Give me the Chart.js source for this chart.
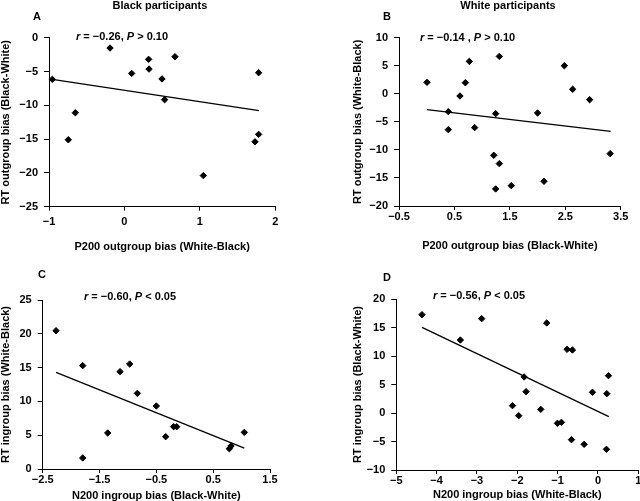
<!DOCTYPE html>
<html><head><meta charset="utf-8">
<script src="https://cdn.jsdelivr.net/npm/chart.js@4"></script>
<style>
html,body{margin:0;padding:0;background:#fff;width:640px;height:501px;overflow:hidden;position:relative;}
.cv{position:absolute;}
.t{position:absolute;font-family:"Liberation Sans",Arial,sans-serif;font-weight:bold;font-size:11px;line-height:11px;color:#000;white-space:nowrap;}
</style></head><body>
<div class="cv" style="left:0;top:0;width:320px;height:252px"><canvas id="cA"></canvas></div>
<div class="cv" style="left:320px;top:0;width:320px;height:251px"><canvas id="cB"></canvas></div>
<div class="cv" style="left:0;top:250px;width:320px;height:251px"><canvas id="cC"></canvas></div>
<div class="cv" style="left:320px;top:250px;width:330px;height:250px"><canvas id="cD"></canvas></div>

<div class="t" style="left:160px;top:-0.5px;transform:translateX(-50%)">Black participants</div>
<div class="t" style="left:508px;top:-0.5px;transform:translateX(-50%)">White participants</div>
<div class="t" style="left:33px;top:11px">A</div>
<div class="t" style="left:383px;top:10.5px">B</div>
<div class="t" style="left:38px;top:269px">C</div>
<div class="t" style="left:383px;top:271.5px">D</div>
<div class="t" style="left:76px;top:31px"><i>r</i> = −0.26, <i>P</i> &gt; 0.10</div>
<div class="t" style="left:420px;top:32px"><i>r</i> = −0.14 , <i>P</i> &gt; 0.10</div>
<div class="t" style="left:84px;top:291px"><i>r</i> = −0.60, <i>P</i> &lt; 0.05</div>
<div class="t" style="left:433px;top:290px"><i>r</i> = −0.56, <i>P</i> &lt; 0.05</div>

<script>
// Panel A: Black participants
const aX = [-0.956, -0.651, -0.744, -0.191, 0.096, 0.321, 0.326, 0.498, 0.533, 0.670, 1.779, 1.779, 1.731, 1.046];
const aY = [-6.16, -11.1, -15.1, -1.53, -5.28, -3.2, -4.64, -6.1, -9.17, -2.81, -5.18, -14.3, -15.4, -20.4];
const aFitX = [-0.956, 1.784];
const aFitY = [-6.16, -10.8];
const aXTicks = [-1, 0, 1, 2];
const aYTicks = [-25, -20, -15, -10, -5, 0];

// Panel B: White participants
const bX = [0.005, 0.39, 0.39, 0.60, 0.697, 0.769, 0.865, 1.31, 1.244, 1.21, 1.31, 1.244, 1.526, 2.0, 2.116, 2.483, 2.633, 2.94, 3.31];
const bY = [2.04, -3.18, -6.39, -0.39, 1.98, 5.78, -6.03, 6.67, -3.54, -10.96, -12.45, -16.96, -16.37, -3.42, -15.6, 5.0, 0.8, -1.05, -10.67];
const bFitX = [0.005, 3.318];
const bFitY = [-2.83, -6.69];
const bXTicks = [-0.5, 0.5, 1.5, 2.5, 3.5];
const bYTicks = [-20, -15, -10, -5, 0, 5, 10];

// Panel C
const cX = [-2.265, -1.796, -1.796, -1.356, -1.139, -0.969, -0.834, -0.5, -0.336, -0.195, -0.142, 0.784, 0.814, 1.048];
const cY = [20.46, 15.29, 1.63, 5.33, 14.4, 15.53, 11.19, 9.32, 4.78, 6.26, 6.26, 3.0, 3.4, 5.42];
const cFitX = [-2.265, 1.048];
const cFitY = [14.3, 3.1];
const cXTicks = [-2.5, -1.5, -0.5, 0.5, 1.5];
const cYTicks = [0, 5, 10, 15, 20, 25];

// Panel D
const dX = [-4.363, -3.412, -2.883, -1.27, -0.765, -0.633, -1.832, -1.783, -2.12, -1.965, -1.418, -1.005, -0.906, -0.657, -0.343, -0.137, 0.21, 0.219, 0.26];
const dY = [17.25, 12.8, 16.55, 15.79, 11.17, 11.05, 6.32, 3.74, 1.29, -0.47, 0.64, -1.81, -1.64, -4.68, -5.5, 3.63, -6.37, 3.39, 6.55];
const dFitX = [-4.363, 0.269];
const dFitY = [15.03, -0.64];
const dXTicks = [-5, -4, -3, -2, -1, 0, 1];
const dYTicks = [-10, -5, 0, 5, 10, 15, 20];

const FONT = '"Liberation Sans", Arial, sans-serif';
const fmt = v => (v < 0 ? '\u2212' : '') + String(Math.abs(v));
const pts = (xs, ys) => xs.map((x, i) => ({x: x, y: ys[i]}));

function makeChart(id, cfg) {
  const axis = (ticks, fixed, isX, title, pad, tickPad) => ({
    type: 'linear',
    min: ticks[0], max: ticks[ticks.length - 1],
    afterBuildTicks: s => { s.ticks = ticks.map(v => ({value: v})); },
    afterFit: s => { if (isX) s.height = fixed; else s.width = fixed; },
    grid: {drawOnChartArea: false, drawTicks: true, tickLength: isX ? 4 : 5, color: '#000', lineWidth: 1},
    border: {display: true, color: '#000', width: 1},
    ticks: {autoSkip: false, maxRotation: 0, color: '#000', padding: tickPad,
            font: {family: FONT, size: 11, weight: 'bold'}, callback: v => fmt(v)},
    title: {display: true, text: title, color: '#000', padding: pad,
            font: {family: FONT, size: 11, weight: 'bold', lineHeight: 1}}
  });
  new Chart(document.getElementById(id), {
    type: 'scatter',
    data: {datasets: [
      {data: pts(cfg.x, cfg.y), pointStyle: 'rectRot', pointRadius: 3.2, borderWidth: 1,
       backgroundColor: '#000', borderColor: '#000', clip: false},
      {type: 'line', data: pts(cfg.fx, cfg.fy), showLine: true, pointRadius: 0,
       borderColor: '#000', borderWidth: 1.3, fill: false, clip: false}
    ]},
    options: {
      responsive: true, maintainAspectRatio: false, animation: false, events: [],
      layout: {padding: cfg.padding},
      plugins: {legend: {display: false}, tooltip: {enabled: false}},
      scales: {
        x: axis(cfg.xt, cfg.xh, true, cfg.xtitle, {top: 0, bottom: 0}, cfg.xTickPad),
        y: axis(cfg.yt, cfg.yw, false, cfg.ytitle, {top: 0, bottom: 0}, 6)
      }
    }
  });
}

makeChart('cA', {x: aX, y: aY, fx: aFitX, fy: aFitY, xt: aXTicks, yt: aYTicks,
  xtitle: 'P200 outgroup bias (White-Black)', ytitle: 'RT outgroup bias (Black-White)',
  padding: {left: 0, top: 37.7, right: 44.7, bottom: 0}, yw: 49, xh: 45.3, xTickPad: 4.5});
makeChart('cB', {x: bX, y: bY, fx: bFitX, fy: bFitY, xt: bXTicks, yt: bYTicks,
  xtitle: 'P200 outgroup bias (Black-White)', ytitle: 'RT outgroup bias (White-Black)',
  padding: {left: 32.5, top: 37.7, right: 19.3, bottom: 0}, yw: 46.5, xh: 45, xTickPad: 0.5});
makeChart('cC', {x: cX, y: cY, fx: cFitX, fy: cFitY, xt: cXTicks, yt: cYTicks,
  xtitle: 'N200 ingroup bias (Black-White)', ytitle: 'RT ingroup bias (White-Black)',
  padding: {left: 0, top: 50, right: 50, bottom: 0}, yw: 42.7, xh: 32, xTickPad: 0.5});
makeChart('cD', {x: dX, y: dY, fx: dFitX, fy: dFitY, xt: dXTicks, yt: dYTicks,
  xtitle: 'N200 ingroup bias (White-Black)', ytitle: 'RT ingroup bias (Black-White)',
  padding: {left: 32.5, top: 49, right: 11.7, bottom: 0}, yw: 43.8, xh: 30, xTickPad: 0});
</script>
</body></html>
